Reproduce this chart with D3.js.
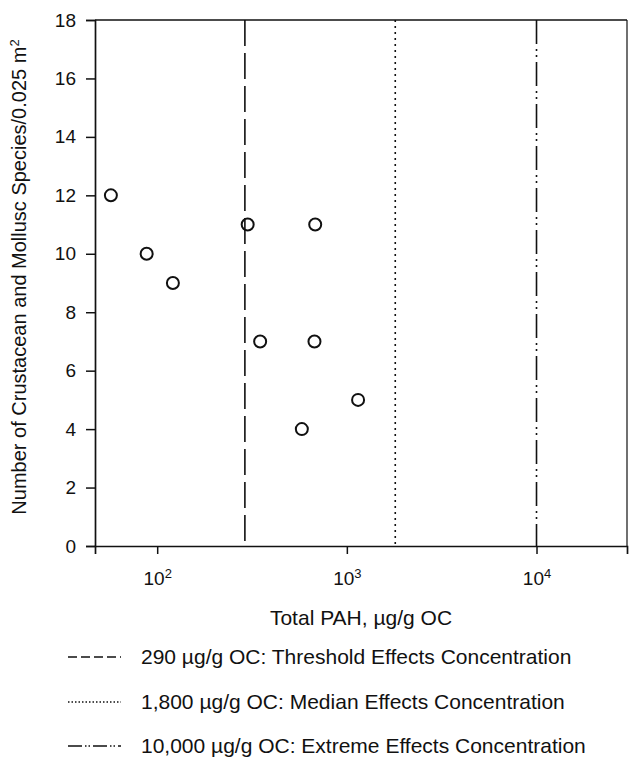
<!DOCTYPE html>
<html>
<head>
<meta charset="utf-8">
<script src="https://cdn.jsdelivr.net/npm/d3@7"></script>
<style>
  html, body { margin: 0; padding: 0; background: #fff; }
  svg { display: block; }
  text { font-family: "Liberation Sans", Arial, Helvetica, sans-serif; fill: #111; }
</style>
</head>
<body>
<svg id="chart" width="629" height="759"></svg>
<script>
// ---- data ----
const pahValues = [57, 88, 121, 300, 681, 349, 675, 579, 1146];   // Total PAH, µg/g OC
const speciesCounts = [12, 10, 9, 11, 11, 7, 7, 4, 5];           // species / 0.025 m²
const guidelineValues = [290, 1800, 10000];
const guidelineLabels = [
  "290 µg/g OC: Threshold Effects Concentration",
  "1,800 µg/g OC: Median Effects Concentration",
  "10,000 µg/g OC:  Extreme Effects Concentration"
];
const yTicks = [0, 2, 4, 6, 8, 10, 12, 14, 16, 18];
const xTicks = [100, 1000, 10000];
const xTickExponents = ["2", "3", "4"];
const xLabel = "Total PAH, µg/g OC";
const yLabel = "Number of Crustacean and Mollusc Species/0.025 m";

(function () {
// ---- layout ----
const svg = d3.select("#chart");
const pLeft = 95, pRight = 627, pTop = 20, pBottom = 546;
const dashStyles = ["26,7", "2,4", "24,5,2,4,2,5"];

const x = d3.scaleLog().domain([47, 30000]).range([pLeft, pRight]);
const y = d3.scaleLinear().domain([0, 18]).range([pBottom, pTop]);

// frame top / right
svg.append("line").attr("x1", pLeft).attr("x2", pRight).attr("y1", pTop).attr("y2", pTop)
  .attr("stroke", "#111").attr("stroke-width", 1.7);
svg.append("line").attr("x1", pRight).attr("x2", pRight).attr("y1", pTop).attr("y2", pBottom)
  .attr("stroke", "#111").attr("stroke-width", 1.2);

// axes
const yAxis = d3.axisLeft(y).tickValues(yTicks).tickSize(9).tickPadding(10).tickFormat(d3.format("d"));
const gy = svg.append("g").attr("transform", `translate(${pLeft},0)`).call(yAxis);
const xAxis = d3.axisBottom(x).tickValues(xTicks).tickSize(8).tickPadding(18).tickFormat(() => "10");
const gx = svg.append("g").attr("transform", `translate(0,${pBottom})`).call(xAxis);

[gx, gy].forEach(g => {
  g.select(".domain").attr("stroke", "#111").attr("stroke-width", 1.7);
  g.selectAll(".tick line").attr("stroke", "#111").attr("stroke-width", 1.5);
  g.selectAll(".tick text").attr("font-size", 19).attr("fill", "#111")
    .style("font-family", '"Liberation Sans", Arial, sans-serif');
});
gx.selectAll(".tick text").each(function(d, i) {
  d3.select(this).append("tspan").attr("dy", "-0.55em").attr("font-size", 13).text(xTickExponents[i]);
});

// guideline verticals
svg.selectAll("line.guide").data(guidelineValues).join("line")
  .attr("class", "guide")
  .attr("x1", d => x(d)).attr("x2", d => x(d))
  .attr("y1", pTop).attr("y2", pBottom)
  .attr("stroke", "#111").attr("stroke-width", 1.6)
  .attr("stroke-dasharray", (d, i) => dashStyles[i]);

// points
svg.selectAll("circle.pt").data(pahValues.map((v, i) => [v, speciesCounts[i]])).join("circle")
  .attr("class", "pt")
  .attr("cx", d => x(d[0])).attr("cy", d => y(d[1]))
  .attr("r", 6).attr("fill", "none").attr("stroke", "#111").attr("stroke-width", 2);

// axis titles
svg.append("text").attr("x", 361).attr("y", 625).attr("text-anchor", "middle")
  .attr("font-size", 21).text(xLabel);
const yl = svg.append("text").attr("transform", "translate(26,277) rotate(-90)")
  .attr("text-anchor", "middle").attr("font-size", 20).text(yLabel);
yl.append("tspan").attr("dy", "-0.55em").attr("font-size", 13).text("2");

// legend
const legendRows = [657, 702, 746];
const lg = svg.selectAll("g.leg").data(guidelineLabels).join("g")
  .attr("class", "leg").attr("transform", (d, i) => `translate(0,${legendRows[i]})`);
lg.append("line").attr("x1", 68).attr("x2", 121).attr("y1", 0).attr("y2", 0)
  .attr("stroke", "#111").attr("stroke-width", 1.5)
  .attr("stroke-dasharray", (d, i) => i === 0 ? "9,4" : i === 1 ? "1.5,2" : "14,3,1.5,2,1.5,3");
lg.append("text").attr("x", 141).attr("y", 7).attr("font-size", 21).text(d => d);
})();
</script>
</body>
</html>
